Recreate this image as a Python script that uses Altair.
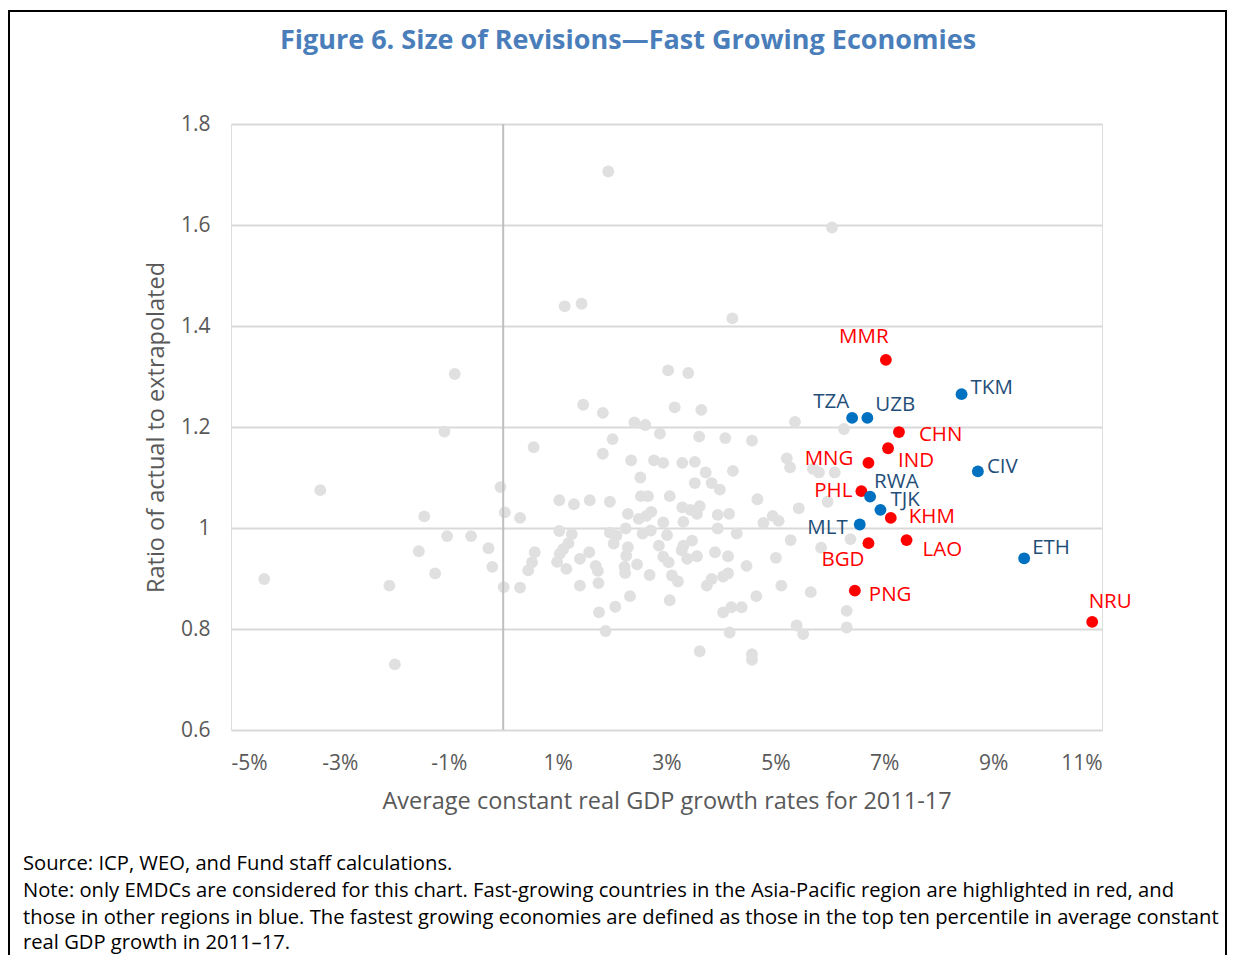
import altair as alt
import pandas as pd

# ---- Other EMDCs (grey cloud): growth (%) and ratio ----
other_growth = [
    -1.08, -3.36, -1.45, -1.03, -0.59, -1.55, -0.27, -0.20, -1.25, -4.39,
    -2.09, -1.99, -0.89, -0.05, 0.03, 0.01,
    0.56, 0.31, 0.31, 0.53, 0.46, 0.58, 1.03, 1.30, 1.59, 1.96,
    2.01, 1.83, 2.41, 2.61, 2.88, 2.35, 2.77, 2.94, 2.52, 2.53,
    2.66, 3.06, 2.29, 2.49, 2.63, 2.72, 2.94, 1.03, 1.26, 1.96,
    2.08, 2.25, 2.56, 2.71, 3.01, 2.03, 1.20, 1.10, 1.04, 0.99,
    1.41, 1.58, 1.16, 1.70, 1.74, 2.29, 2.26, 2.46, 2.23, 2.24,
    2.86, 2.94, 3.04, 2.69, 3.10, 3.21, 1.41, 1.75, 2.33, 2.06,
    1.76, 3.06, 1.88,
    1.93, 1.13, 1.44, 4.21, 3.03, 3.40, 1.47, 1.83, 3.15, 3.64,
    6.04, 5.36, 6.26,
    3.60, 4.08, 4.57, 5.21, 5.27, 3.29, 3.52, 3.72, 4.22, 3.52,
    3.83, 3.98, 4.67, 5.43, 3.29, 3.44, 3.61, 3.56, 3.94, 4.15,
    3.31, 3.94, 4.29, 4.78, 4.95, 5.06, 5.28, 3.31, 3.47, 3.28,
    3.89, 4.13, 3.38, 3.56, 4.47, 5.01, 3.74, 3.83, 4.04, 4.13,
    5.11, 5.65, 4.65, 4.04, 4.19, 4.38, 3.61, 4.16, 4.57, 4.57,
    5.39, 5.51, 6.31, 6.31, 5.69, 5.80, 6.09, 5.96, 5.84, 6.38,
]
other_ratio = [
    1.191, 1.075, 1.023, 0.984, 0.984, 0.954, 0.960, 0.923, 0.910, 0.899,
    0.886, 0.730, 1.305, 1.081, 1.031, 0.883,
    1.160, 1.020, 0.882, 0.932, 0.916, 0.952, 1.055, 1.047, 1.055, 1.052,
    1.176, 1.147, 1.209, 1.204, 1.187, 1.134, 1.134, 1.129, 1.100, 1.063,
    1.063, 1.063, 1.028, 1.018, 1.024, 1.032, 1.011, 0.994, 0.988, 0.991,
    0.985, 0.999, 0.989, 0.995, 0.986, 0.969, 0.970, 0.958, 0.949, 0.933,
    0.939, 0.952, 0.919, 0.925, 0.915, 0.962, 0.945, 0.928, 0.923, 0.911,
    0.965, 0.943, 0.932, 0.907, 0.906, 0.894, 0.886, 0.891, 0.865, 0.844,
    0.833, 0.857, 0.796,
    1.706, 1.439, 1.444, 1.415, 1.312, 1.307, 1.244, 1.228, 1.239, 1.234,
    1.595, 1.210, 1.196,
    1.181, 1.178, 1.173, 1.138, 1.120, 1.129, 1.131, 1.110, 1.113, 1.089,
    1.089, 1.076, 1.057, 1.039, 1.041, 1.036, 1.043, 1.028, 1.026, 1.028,
    1.012, 0.999, 0.989, 1.010, 1.024, 1.014, 0.976, 0.965, 0.975, 0.956,
    0.952, 0.944, 0.939, 0.944, 0.925, 0.941, 0.886, 0.899, 0.904, 0.910,
    0.886, 0.873, 0.865, 0.833, 0.843, 0.843, 0.756, 0.793, 0.750, 0.739,
    0.807, 0.790, 0.836, 0.803, 1.117, 1.110, 1.110, 1.052, 0.961, 0.978,
]

# ---- Fast-growing economies ----
codes = ["MMR", "TKM", "TZA", "UZB", "CHN", "IND", "MNG", "CIV", "PHL",
         "RWA", "TJK", "KHM", "MLT", "BGD", "LAO", "ETH", "PNG", "NRU"]
fast_growth = [7.03, 8.42, 6.41, 6.69, 7.27, 7.07, 6.71, 8.72, 6.58,
               6.74, 6.93, 7.12, 6.55, 6.71, 7.41, 9.57, 6.46, 10.82]
fast_ratio = [1.333, 1.265, 1.218, 1.218, 1.190, 1.158, 1.129, 1.112, 1.073,
              1.062, 1.036, 1.020, 1.007, 0.970, 0.976, 0.940, 0.876, 0.814]
regions = ["Asia-Pacific", "Other", "Other", "Other", "Asia-Pacific", "Asia-Pacific",
           "Asia-Pacific", "Other", "Asia-Pacific", "Other", "Other", "Asia-Pacific",
           "Other", "Asia-Pacific", "Asia-Pacific", "Other", "Asia-Pacific", "Asia-Pacific"]

x_ticks = [-5, -3, -1, 1, 3, 5, 7, 9, 11]
y_ticks = [0.6, 0.8, 1.0, 1.2, 1.4, 1.6, 1.8]

title_text = "Figure 6. Size of Revisions\u2014Fast Growing Economies"
x_title = "Average constant real GDP growth rates for 2011-17"
y_title = "Ratio of actual to extrapolated"
footer_lines = [
    "Source: ICP, WEO, and Fund staff calculations.",
    "Note: only EMDCs are considered for this chart. Fast-growing countries in the Asia-Pacific region are highlighted in red, and",
    "those in other regions in blue. The fastest growing economies are defined as those in the top ten percentile in average constant",
    "real GDP growth in 2011\u201317.",
]

# label placement (layout only)
label_pos = {
    "MMR": ("center", -22, -23), "TKM": ("left", 9, -6), "TZA": ("right", -3, -16),
    "UZB": ("left", 8, -13), "CHN": ("left", 20, 3), "IND": ("left", 10, 13),
    "MNG": ("right", -15, -4), "CIV": ("left", 9, -4), "PHL": ("right", -9, 0),
    "RWA": ("left", 4, -15), "TJK": ("left", 10, -10), "KHM": ("left", 18, -1),
    "MLT": ("right", -12, 4), "BGD": ("right", -4, 17), "LAO": ("left", 16, 10),
    "ETH": ("left", 8, -10), "PNG": ("left", 14, 4), "NRU": ("center", 18, -20),
}

FONT = "Open Sans"
RED = "#ff0000"
BLUE = "#0070c0"
RED_TXT = "#ff0000"
BLUE_TXT = "#1f4e79"
GREY = "#e0e0e0"
AXIS_GREY = "#595959"

others = pd.DataFrame({"growth": other_growth, "ratio": other_ratio})
fast = pd.DataFrame({"code": codes, "growth": fast_growth, "ratio": fast_ratio, "region": regions})

xscale = alt.Scale(domain=[-5, 11], nice=False, zero=False)
yscale = alt.Scale(domain=[0.6, 1.8], nice=False, zero=False)

x_enc = alt.X("growth:Q", scale=xscale, axis=alt.Axis(
    values=x_ticks, labelExpr="datum.value + '%'", title=x_title, grid=False,
    domain=False, ticks=False, labelFontSize=21, labelColor=AXIS_GREY, labelFont=FONT,
    labelPadding=22, titleFont=FONT, titleFontSize=23.5, titleColor=AXIS_GREY,
    titleFontWeight="normal", titlePadding=16))
y_enc = alt.Y("ratio:Q", scale=yscale, axis=alt.Axis(
    values=y_ticks, labelExpr="format(datum.value, '~g')", title=y_title, grid=True,
    gridColor="#d9d9d9", gridWidth=2, domain=False, ticks=False, labelFontSize=21,
    labelColor=AXIS_GREY, labelFont=FONT, labelPadding=21, titleFont=FONT,
    titleFontSize=23.5, titleColor=AXIS_GREY, titleFontWeight="normal", titlePadding=12))

grey_layer = alt.Chart(others).mark_circle(size=140, color=GREY, opacity=1).encode(x=x_enc, y=y_enc)

zero_rule = alt.Chart(pd.DataFrame({"growth": [0]})).mark_rule(
    color="#bfbfbf", strokeWidth=2).encode(x=alt.X("growth:Q", scale=xscale))

fast_layer = alt.Chart(fast).mark_circle(size=140, opacity=1).encode(
    x=alt.X("growth:Q", scale=xscale),
    y=alt.Y("ratio:Q", scale=yscale),
    color=alt.Color("region:N", scale=alt.Scale(domain=["Asia-Pacific", "Other"], range=[RED, BLUE]), legend=None),
)

label_layers = []
for c in codes:
    a, dx, dy = label_pos[c]
    label_layers.append(
        alt.Chart(fast).transform_filter(alt.datum.code == c).mark_text(
            align=a, baseline="middle", dx=dx, dy=dy, font=FONT, fontSize=20.5).encode(
            x=alt.X("growth:Q", scale=xscale),
            y=alt.Y("ratio:Q", scale=yscale),
            text="code:N",
            color=alt.Color("region:N", scale=alt.Scale(domain=["Asia-Pacific", "Other"], range=[RED_TXT, BLUE_TXT]), legend=None),
        )
    )

one = pd.DataFrame({"k": [0]})
frame = alt.Chart(one).mark_rect(fill=None, stroke="black", strokeWidth=2, clip=False).encode(
    x=alt.value(-222), x2=alt.value(995), y=alt.value(-113), y2=alt.value(900))

title_mark = alt.Chart(one).mark_text(
    text=title_text, font=FONT, fontSize=27, fontWeight="bold", color="#4a7ebb",
    align="center", baseline="middle").encode(x=alt.value(397), y=alt.value(-83))

footer_y = [740, 767, 793.5, 819]
footer_layers = [
    alt.Chart(one).mark_text(text=t, font=FONT, fontSize=20.2, color="black",
                             align="left", baseline="middle").encode(
        x=alt.value(-208), y=alt.value(fy))
    for t, fy in zip(footer_lines, footer_y)
]

chart = alt.layer(
    grey_layer, zero_rule, fast_layer, *label_layers, frame, title_mark, *footer_layers
).resolve_scale(color="independent").properties(
    width=871, height=606,
    autosize=alt.AutoSizeParams(type="none"),
    padding={"left": 223, "top": 116, "right": 126, "bottom": 225},
).configure_view(stroke=None).configure(background="white")

chart.save("out.html", embed_options={"renderer": "svg", "actions": False})
